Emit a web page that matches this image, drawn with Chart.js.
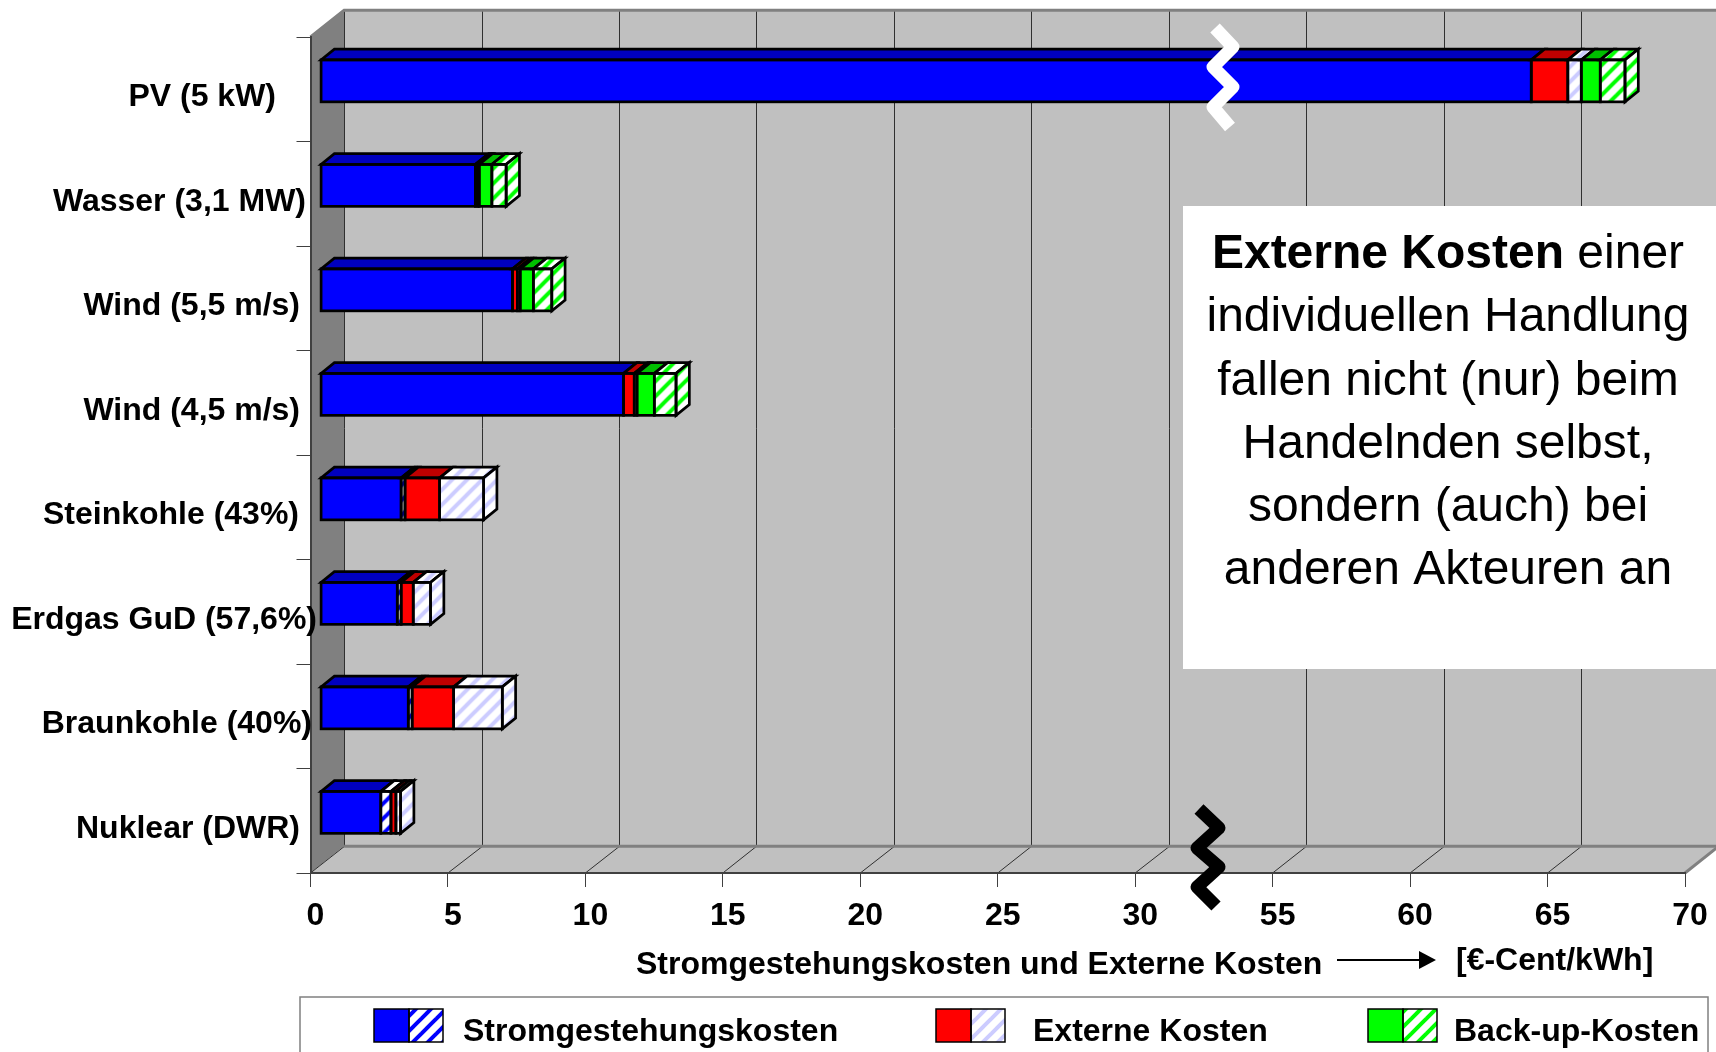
<!DOCTYPE html>
<html>
<head>
<meta charset="utf-8">
<title>Externe Kosten</title>
<script src="https://cdn.jsdelivr.net/npm/chart.js@4"></script>
<style>
  html, body { margin: 0; padding: 0; background: #fff; overflow: hidden; }
  canvas { display: block; }
</style>
</head>
<body>
<canvas id="cost-chart" width="1716" height="1052"></canvas>
<script>
// Categories, top to bottom
const categories = ['PV (5 kW)', 'Wasser (3,1 MW)', 'Wind (5,5 m/s)', 'Wind (4,5 m/s)',
  'Steinkohle (43%)', 'Erdgas GuD (57,6%)', 'Braunkohle (40%)', 'Nuklear (DWR)'];

// Cost components in Cent/kWh, same order as the categories
const stromSolid = [64.04, 5.63, 6.98, 11.02, 2.93, 2.79, 3.19, 2.19];
const stromHatch = [0, 0, 0, 0, 0.14, 0.14, 0.14, 0.37];
const externSolid = [1.33, 0.09, 0.18, 0.39, 1.26, 0.44, 1.51, 0.18];
const externHatch = [0.49, 0.05, 0.1, 0.1, 1.6, 0.63, 1.77, 0.17];
const backupSolid = [0.69, 0.46, 0.48, 0.63, 0, 0, 0, 0];
const backupHatch = [0.9, 0.52, 0.67, 0.79, 0, 0, 0, 0];

// Labels of the value axis, which skips from 30 straight to 55
const tickLabels = ['0', '5', '10', '15', '20', '25', '30', '55', '60', '65', '70'];
const axisCut = 20;

const textLines = [
  [['Externe Kosten', true], [' einer', false]],
  [['individuellen Handlung', false]],
  [['fallen nicht (nur) beim', false]],
  [['Handelnden selbst,', false]],
  [['sondern (auch) bei', false]],
  [['anderen Akteuren an', false]]
];

// Right end of each category label
const labelRight = [276, 306, 300, 300, 299, 317, 312, 300];

const FONT = '"Liberation Sans", Arial, sans-serif';
const WALL = '#c0c0c0';
const WALL_DARK = '#808080';
const GRID = '#303030';
const DEPTH_X = 33.6;   // depth of the 3D box
const DEPTH_Y = 26.7;
const BAR_X = 10.1;     // front of the bars relative to the front of the box
const BAR_Y = -8.4;
const BAR_DEPTH_X = 13.3;
const BAR_DEPTH_Y = 10.7;
const OUTLINE = 2.7;

/**
 * Diagonal stripes on white
 * @param {string} color - Stripe color
 * @returns {CanvasPattern} Repeating pattern
 */
function makeHatch(color) {
  const size = 15;
  const tile = document.createElement('canvas');
  tile.width = size;
  tile.height = size;
  const c = tile.getContext('2d');
  c.fillStyle = '#fff';
  c.fillRect(0, 0, size, size);
  c.strokeStyle = color;
  c.lineWidth = 4;
  [[-size, size, size, -size], [0, size, size, 0], [0, 2 * size, 2 * size, 0]].forEach(([a, b, d, e]) => {
    c.beginPath();
    c.moveTo(a, b);
    c.lineTo(d, e);
    c.stroke();
  });
  return c.createPattern(tile, 'repeat');
}

const blueHatch = makeHatch('#0000ff');
const lilacHatch = makeHatch('#ccccff');
const greenHatch = makeHatch('#00ff00');

const cutFirst = values => values.map((v, i) => (i === 0 ? v - axisCut : v));

// Colour of the top face of each stack part
const topFaces = ['#0000bf', blueHatch, '#bf0000', lilacHatch, '#00bf00', greenHatch];
// Colour of the side face, when a part closes the stack
const sideFaces = ['#0000a0', blueHatch, '#a00000', lilacHatch, '#00a000', greenHatch];

function polygon(ctx, points, fill, stroke, width) {
  ctx.beginPath();
  points.forEach(([x, y], i) => (i ? ctx.lineTo(x, y) : ctx.moveTo(x, y)));
  ctx.closePath();
  if (fill) {
    ctx.fillStyle = fill;
    ctx.fill();
  }
  if (stroke) {
    ctx.strokeStyle = stroke;
    ctx.lineWidth = width;
    ctx.stroke();
  }
}

function zigzag(ctx, points, color) {
  ctx.beginPath();
  points.forEach(([x, y], i) => (i ? ctx.lineTo(x, y) : ctx.moveTo(x, y)));
  ctx.strokeStyle = color;
  ctx.lineWidth = 13;
  ctx.lineJoin = 'round';
  ctx.lineCap = 'butt';
  ctx.stroke();
}

// Walls, floor and the grid behind the bars
const boxPlugin = {
  id: 'box',
  beforeDraw(chart) {
    const { ctx, chartArea: a, scales: { x } } = chart;
    const backLeft = a.left + DEPTH_X;
    const backRight = a.right + DEPTH_X;
    const backBottom = a.bottom - DEPTH_Y;
    const backTop = a.top - DEPTH_Y;
    ctx.save();
    polygon(ctx, [[backLeft, backTop], [backRight, backTop], [backRight, backBottom], [backLeft, backBottom]], WALL);
    polygon(ctx, [[a.left, a.top], [backLeft, backTop], [backLeft, backBottom], [a.left, a.bottom]], WALL_DARK);
    polygon(ctx, [[a.left, a.bottom], [a.right, a.bottom], [backRight, backBottom], [backLeft, backBottom]], WALL);

    ctx.strokeStyle = GRID;
    ctx.lineWidth = 1;
    x.ticks.forEach(t => {
      const px = x.getPixelForValue(t.value);
      const back = Math.round(px + DEPTH_X) + 0.5;
      ctx.beginPath();
      ctx.moveTo(px, a.bottom);
      ctx.lineTo(back, backBottom);
      ctx.lineTo(back, backTop);
      ctx.stroke();
    });

    ctx.strokeStyle = WALL_DARK;
    ctx.lineWidth = 3;
    ctx.beginPath();
    ctx.moveTo(backLeft, backBottom);
    ctx.lineTo(backRight, backBottom);
    ctx.stroke();
    ctx.beginPath();
    ctx.moveTo(a.left, a.top);
    ctx.lineTo(backLeft, backTop);
    ctx.lineTo(backRight, backTop);
    ctx.stroke();
    ctx.beginPath();
    ctx.moveTo(a.right, a.bottom);
    ctx.lineTo(backRight, backBottom);
    ctx.stroke();
    ctx.restore();
  }
};

// Pushes the bars into the box and gives them top and side faces
const barDepthPlugin = {
  id: 'barDepth',
  beforeDatasetsDraw(chart) {
    chart.ctx.save();
    chart.ctx.translate(BAR_X, BAR_Y);
  },
  afterDatasetsDraw(chart) {
    const { ctx } = chart;
    const count = chart.data.datasets.length;

    categories.forEach((_, row) => {
      let last = -1;
      for (let d = 0; d < count; d++) {
        const el = chart.getDatasetMeta(d).data[row];
        if (el.x - el.base < 0.01) continue;
        last = d;
        const top = el.y - el.height / 2;
        polygon(ctx, [[el.base, top], [el.x, top], [el.x + BAR_DEPTH_X, top - BAR_DEPTH_Y],
          [el.base + BAR_DEPTH_X, top - BAR_DEPTH_Y]], topFaces[d], '#000', OUTLINE);
      }
      const end = chart.getDatasetMeta(last).data[row];
      const top = end.y - end.height / 2;
      const bottom = end.y + end.height / 2;
      polygon(ctx, [[end.x, top], [end.x + BAR_DEPTH_X, top - BAR_DEPTH_Y],
        [end.x + BAR_DEPTH_X, bottom - BAR_DEPTH_Y], [end.x, bottom]], sideFaces[last], '#000', OUTLINE);

      for (let d = 0; d < count; d++) {
        const el = chart.getDatasetMeta(d).data[row];
        if (el.x - el.base < 0.01) continue;
        ctx.strokeStyle = '#000';
        ctx.lineWidth = OUTLINE;
        ctx.lineJoin = 'miter';
        ctx.strokeRect(el.base, el.y - el.height / 2, el.x - el.base, el.height);
      }
    });
    ctx.restore();
  }
};

// Category labels, axis title, legend, text box and the axis break marks
const annotationPlugin = {
  id: 'annotations',
  afterDraw(chart) {
    const { ctx, scales: { y } } = chart;
    ctx.save();
    ctx.fillStyle = '#000';
    ctx.textBaseline = 'middle';
    ctx.textAlign = 'right';
    ctx.font = 'bold 32px ' + FONT;
    categories.forEach((name, i) => {
      ctx.fillText(name, labelRight[i], y.getPixelForValue(i) + 8);
    });

    ctx.textAlign = 'left';
    ctx.fillText('Stromgestehungskosten und Externe Kosten', 636, 965);
    ctx.fillText('[€-Cent/kWh]', 1456, 961);

    // Arrow next to the axis title
    ctx.strokeStyle = '#000';
    ctx.lineWidth = 2;
    ctx.beginPath();
    ctx.moveTo(1337, 960);
    ctx.lineTo(1420, 960);
    ctx.stroke();
    polygon(ctx, [[1419, 951], [1436, 960], [1419, 969]], '#000');

    // Legend frame runs off the bottom of the page
    ctx.strokeStyle = '#808080';
    ctx.lineWidth = 1.5;
    ctx.strokeRect(300, 997, 1408, 80);
    [[374, blueHatch, '#0000ff', 'Stromgestehungskosten', 463],
      [936, lilacHatch, '#ff0000', 'Externe Kosten', 1033],
      [1368, greenHatch, '#00ff00', 'Back-up-Kosten', 1454]].forEach(([sx, hatch, solid, label, tx]) => {
      ctx.fillStyle = solid;
      ctx.fillRect(sx, 1009, 35, 33);
      ctx.fillStyle = hatch;
      ctx.fillRect(sx + 35, 1009, 34, 33);
      ctx.strokeStyle = '#000';
      ctx.lineWidth = 1.5;
      ctx.strokeRect(sx, 1009, 35, 33);
      ctx.strokeRect(sx + 35, 1009, 34, 33);
      ctx.fillStyle = '#000';
      ctx.fillText(label, tx, 1032);
    });

    // Text box on the chart
    ctx.fillStyle = '#fff';
    ctx.fillRect(1183, 206, 533, 463);
    ctx.fillStyle = '#000';
    textLines.forEach((parts, i) => {
      const fonts = parts.map(p => (p[1] ? 'bold ' : '') + '48px ' + FONT);
      const widths = parts.map((p, k) => {
        ctx.font = fonts[k];
        return ctx.measureText(p[0]).width;
      });
      let tx = 1448 - widths.reduce((s, w) => s + w, 0) / 2;
      parts.forEach((p, k) => {
        ctx.font = fonts[k];
        ctx.fillText(p[0], tx, 255 + i * 63.2);
        tx += widths[k];
      });
    });

    // Break marks on the long bar and on the axis
    zigzag(ctx, [[1215, 28], [1233, 47], [1213, 67], [1233, 87], [1213, 107], [1230, 127]], '#fff');
    zigzag(ctx, [[1199, 809], [1219, 828], [1197, 848], [1219, 867], [1197, 887], [1216, 906]], '#000');
    ctx.restore();
  }
};

const stackParts = [
  { label: 'Stromgestehungskosten', data: cutFirst(stromSolid), backgroundColor: '#0000ff' },
  { label: 'Stromgestehungskosten (Anteil)', data: stromHatch, backgroundColor: blueHatch },
  { label: 'Externe Kosten', data: externSolid, backgroundColor: '#ff0000' },
  { label: 'Externe Kosten (Anteil)', data: externHatch, backgroundColor: lilacHatch },
  { label: 'Back-up-Kosten', data: backupSolid, backgroundColor: '#00ff00' },
  { label: 'Back-up-Kosten (Anteil)', data: backupHatch, backgroundColor: greenHatch }
];

new Chart(document.getElementById('cost-chart'), {
  type: 'bar',
  data: {
    labels: categories,
    datasets: stackParts.map(p => ({ ...p, borderWidth: 0, barThickness: 42 }))
  },
  plugins: [boxPlugin, barDepthPlugin, annotationPlugin],
  options: {
    indexAxis: 'y',
    responsive: false,
    animation: false,
    layout: { autoPadding: false, padding: { left: 0, top: 37, right: 31, bottom: 0 } },
    plugins: { legend: { display: false }, tooltip: { enabled: false }, title: { display: false } },
    scales: {
      x: {
        stacked: true,
        min: 0,
        max: 50,
        afterFit: s => { s.height = 179; },
        afterBuildTicks: s => { s.ticks = tickLabels.map((_, i) => ({ value: i * 5 })); },
        grid: { drawOnChartArea: false, tickLength: 14, color: '#404040', lineWidth: 1 },
        border: { color: '#404040', width: 2 },
        ticks: {
          color: '#000',
          font: { family: FONT, size: 32, weight: 'bold' },
          padding: 10,
          labelOffset: 5,
          maxRotation: 0,
          autoSkip: false,
          callback: (v, i) => tickLabels[i]
        }
      },
      y: {
        stacked: true,
        afterFit: s => { s.width = 310.5; },
        grid: { drawOnChartArea: false, tickLength: 14, color: '#404040', lineWidth: 1 },
        border: { color: '#404040', width: 2 },
        ticks: { display: false }
      }
    }
  }
});
</script>
</body>
</html>
